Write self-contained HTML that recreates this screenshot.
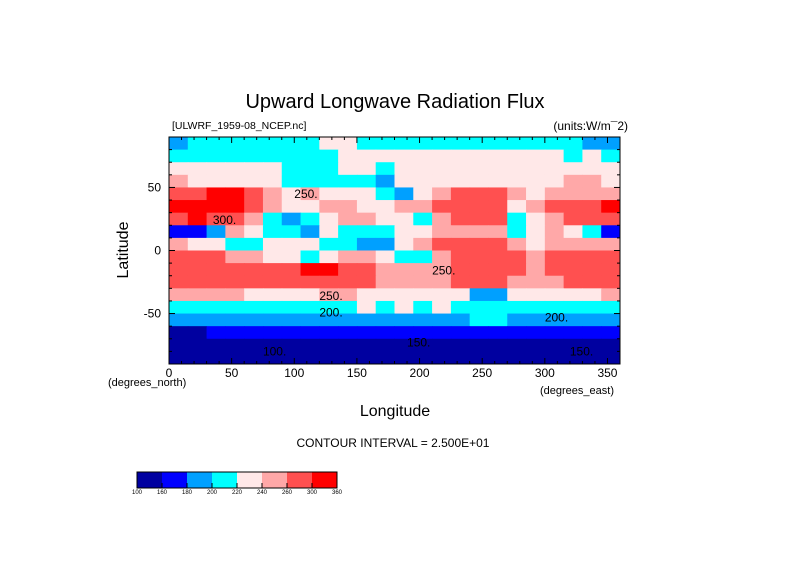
<!DOCTYPE html>
<html><head><meta charset="utf-8"><style>
body{margin:0;background:#fff}
svg text{font-family:"Liberation Sans",sans-serif}
</style></head><body>
<svg id="c" width="789" height="558" xmlns="http://www.w3.org/2000/svg">
<rect width="789" height="558" fill="#fff"/>
<text x="395" y="108" font-size="20" text-anchor="middle">Upward Longwave Radiation Flux</text>
<text x="172" y="129" font-size="10.5">[ULWRF_1959-08_NCEP.nc]</text>
<text x="628" y="130" font-size="12" text-anchor="end">(units:W/m¯2)</text>
<g id="map"></g>
<g id="axes"></g>
<g id="clabels" font-size="12"></g>
<text x="108" y="386" font-size="11">(degrees_north)</text>
<text x="540" y="394" font-size="11">(degrees_east)</text>
<text x="395" y="416" font-size="16" text-anchor="middle">Longitude</text>
<text x="128" y="250" font-size="16" text-anchor="middle" transform="rotate(-90 128 250)">Latitude</text>
<text x="393" y="447" font-size="12" text-anchor="middle">CONTOUR INTERVAL = 2.500E+01</text>
<g id="legend"></g>
</svg>
<script>
const levels=[100,160,180,200,220,240,260,300,360];
const levelColors=["#0000a0","#0000ff","#00a0ff","#00ffff","#ffe8e8","#ffa8a8","#ff5050","#ff0000"];
const lonTicks=[0,50,100,150,200,250,300,350];
const latTicks=[50,0,-50];
const contourText=["300.","250.","250.","250.","200.","200.","150.","100.","150."];
const contourLon=[35,100,210,120,120,300,190,75,320];
const contourLat=[24,45,-16,-36,-49,-53,-73,-80,-80];
const grid=[
[190,210,210,210,210,210,210,210,230,230,210,210,210,210,210,210,210,210,210,210,210,210,190,190],
[210,210,210,210,210,210,210,210,210,230,230,230,230,230,230,230,230,230,230,230,230,210,230,210],
[230,230,230,230,230,230,210,210,210,230,230,210,230,230,230,230,230,230,230,230,230,230,230,230],
[250,230,230,230,230,230,210,210,210,210,210,190,230,230,230,230,230,230,230,230,230,250,250,230],
[280,280,310,310,280,250,230,250,230,230,230,210,190,230,250,280,280,280,250,230,250,250,250,250],
[310,310,310,310,280,250,230,230,250,250,230,230,250,250,280,280,280,280,230,250,280,280,280,310],
[280,310,280,280,250,210,190,210,230,250,250,230,230,210,250,280,280,280,210,230,250,280,280,280],
[170,170,190,250,230,210,210,190,230,210,210,210,230,230,250,250,250,250,210,230,250,230,210,170],
[250,230,230,210,210,230,230,230,210,210,190,190,230,250,280,280,280,280,250,230,250,250,250,250],
[280,280,280,250,250,230,230,210,230,250,250,230,210,210,250,280,280,280,280,250,280,280,280,280],
[280,280,280,280,280,280,280,310,310,280,280,250,250,250,250,280,280,280,280,250,280,280,280,280],
[280,280,280,280,280,280,280,280,280,280,280,250,250,250,250,280,280,280,250,250,250,280,280,280],
[250,250,250,250,230,230,230,230,250,250,230,230,230,230,230,230,190,190,230,230,230,230,230,250],
[210,210,210,210,210,210,210,210,210,210,230,210,230,210,230,210,210,210,210,210,210,210,210,210],
[190,190,190,190,190,190,190,190,190,190,190,190,190,190,190,190,210,210,190,190,190,190,190,190],
[130,130,170,170,170,170,170,170,170,170,170,170,170,170,170,170,170,170,170,170,170,170,170,170],
[130,130,130,130,130,130,130,130,130,130,130,130,130,130,130,130,130,130,130,130,130,130,130,130],
[130,130,130,130,130,130,130,130,130,130,130,130,130,130,130,130,130,130,130,130,130,130,130,130]];
const X0=169,X1=620,Y0=137,Y1=364;
const xs=lon=>X0+(lon/360)*(X1-X0);
const ys=lat=>Y0+((90-lat)/180)*(Y1-Y0);
const NS="http://www.w3.org/2000/svg";
function colorFor(v){for(let i=0;i<levelColors.length;i++){if(v<levels[i+1])return levelColors[i];}return levelColors[levelColors.length-1];}
const map=document.getElementById('map');
const nr=grid.length,nc=grid[0].length,dLat=180/nr,dLon=360/nc;
grid.forEach((row,r)=>row.forEach((v,c)=>{
  const e=document.createElementNS(NS,'rect');
  const x=xs(c*dLon),y=ys(90-r*dLat);
  e.setAttribute('x',x);e.setAttribute('y',y);
  e.setAttribute('width',xs((c+1)*dLon)-x+0.5);e.setAttribute('height',ys(90-(r+1)*dLat)-y+0.5);
  e.setAttribute('fill',colorFor(v));
  
  
  map.appendChild(e);
}));
const cl=document.getElementById('clabels');
contourText.forEach((s,i)=>{const t=document.createElementNS(NS,'text');t.setAttribute('x',xs(contourLon[i]));t.setAttribute('y',ys(contourLat[i])+4);t.textContent=s;


cl.appendChild(t);});
const ax=document.getElementById('axes');
function line(x1,y1,x2,y2,w){const l=document.createElementNS(NS,'line');l.setAttribute('x1',x1);l.setAttribute('y1',y1);l.setAttribute('x2',x2);l.setAttribute('y2',y2);l.setAttribute('stroke','#000');l.setAttribute('stroke-width',w||1);ax.appendChild(l);return l;}
const fr=document.createElementNS(NS,'rect');
fr.setAttribute('x',X0);fr.setAttribute('y',Y0);fr.setAttribute('width',X1-X0);fr.setAttribute('height',Y1-Y0);
fr.setAttribute('fill','none');fr.setAttribute('stroke','#000');


ax.appendChild(fr);
for(let lon=0;lon<=360;lon+=10){const L=lon%50===0?6:3;line(xs(lon),Y0,xs(lon),Y0+L);line(xs(lon),Y1,xs(lon),Y1-L);}
for(let lat=-90;lat<=90;lat+=10){const L=lat%50===0?6:3;line(X0,ys(lat),X0+L,ys(lat));line(X1,ys(lat),X1-L,ys(lat));}
lonTicks.forEach(v=>{const t=document.createElementNS(NS,'text');t.setAttribute('x',xs(v));t.setAttribute('y',377);t.setAttribute('font-size','12');t.setAttribute('text-anchor','middle');t.textContent=v;


ax.appendChild(t);});
latTicks.forEach(v=>{const t=document.createElementNS(NS,'text');t.setAttribute('x',161);t.setAttribute('y',ys(v)+4);t.setAttribute('font-size','12');t.setAttribute('text-anchor','end');t.textContent=v;


ax.appendChild(t);});
const lg=document.getElementById('legend');
const LX0=137,LX1=337,LY=472,LH=16,bw=(LX1-LX0)/levelColors.length;
levelColors.forEach((c,i)=>{const r=document.createElementNS(NS,'rect');r.setAttribute('x',LX0+i*bw);r.setAttribute('y',LY);r.setAttribute('width',bw);r.setAttribute('height',LH);r.setAttribute('fill',c);


lg.appendChild(r);});
const lb=document.createElementNS(NS,'rect');lb.setAttribute('x',LX0);lb.setAttribute('y',LY);lb.setAttribute('width',LX1-LX0);lb.setAttribute('height',LH);lb.setAttribute('fill','none');lb.setAttribute('stroke','#000');lg.appendChild(lb);
levels.forEach((v,i)=>{const x=LX0+i*bw;const l=document.createElementNS(NS,'line');l.setAttribute('x1',x);l.setAttribute('x2',x);l.setAttribute('y1',LY+LH-5);l.setAttribute('y2',LY+LH);l.setAttribute('stroke','#000');lg.appendChild(l);
const t=document.createElementNS(NS,'text');t.setAttribute('x',x);t.setAttribute('y',494);t.setAttribute('font-size','6');t.setAttribute('text-anchor','middle');t.textContent=v;


lg.appendChild(t);});
</script>
</body></html>
